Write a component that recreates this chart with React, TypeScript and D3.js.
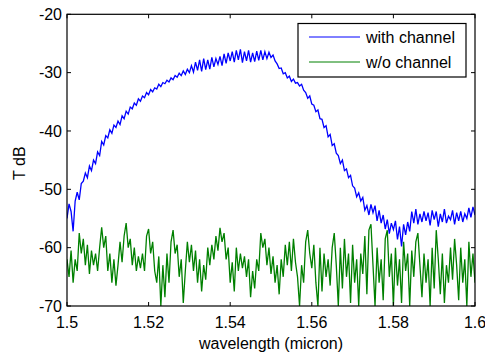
import React from "react";
import * as d3 from "d3";

const xStart = 1.5;
const xStep = 0.0005;
const xTicks = [1.5, 1.52, 1.54, 1.56, 1.58, 1.6];
const xTickLabels = ["1.5", "1.52", "1.54", "1.56", "1.58", "1.6"];
const yTicks = [-70, -60, -50, -40, -30, -20];
const yTickLabels = ["-70", "-60", "-50", "-40", "-30", "-20"];
const seriesNames = ["with channel", "w/o channel"];

const withChannel = [
  -55.0, -52.5, -53.8, -57.2, -52.0, -50.5, -51.8, -49.0, -48.6, -47.2,
  -48.0, -46.0, -46.8, -45.0, -45.6, -43.6, -44.2, -41.8, -42.4, -40.8,
  -41.2, -39.8, -40.4, -39.0, -39.4, -38.3, -38.9, -37.4, -37.9, -36.6,
  -37.1, -35.9, -36.2, -35.2, -35.6, -34.5, -34.9, -34.0, -34.3, -33.4,
  -33.8, -32.9, -33.3, -32.6, -32.8, -32.0, -32.4, -31.7, -31.9, -31.3,
  -31.6, -30.9, -31.2, -30.5, -30.8, -30.1, -30.5, -29.7, -30.3, -29.4,
  -30.0, -28.8, -29.9, -28.2, -29.6, -27.8, -29.8, -27.6, -29.5, -27.8,
  -29.4, -27.4, -29.0, -27.6, -28.6, -27.2, -28.8, -26.8, -28.4, -26.6,
  -28.0, -26.4, -28.2, -26.2, -27.8, -26.0, -28.3, -26.4, -28.0, -26.2,
  -28.2, -26.6, -28.1, -26.3, -27.9, -26.2, -27.8, -26.4, -27.6, -26.5,
  -27.4, -27.0, -28.0, -28.5, -29.3, -29.2, -30.2, -30.0, -30.9, -30.6,
  -31.5, -31.1, -31.8, -31.7, -32.3, -32.0, -33.0, -33.4, -34.4, -34.0,
  -35.4, -35.6, -36.7, -36.4, -37.9, -38.0, -39.4, -39.1, -41.0, -40.6,
  -42.5, -42.2, -43.8, -44.2, -45.6, -45.0, -46.8, -46.5, -48.0, -47.6,
  -49.4, -49.8, -51.3, -50.6, -52.0, -51.4, -53.6, -52.8, -54.4, -52.6,
  -54.0, -52.8, -55.4, -53.6, -55.8, -54.4, -56.8, -55.2, -57.6, -55.8,
  -56.9, -55.4, -58.6, -56.4, -59.8, -56.0, -57.8, -55.6, -57.2, -53.8,
  -55.8, -53.4, -56.0, -54.2, -55.6, -53.8, -55.4, -54.0, -56.2, -53.6,
  -55.2, -53.8, -56.4, -54.2, -55.6, -53.4, -55.8, -54.6, -55.2, -53.6,
  -56.0, -54.0, -55.4, -53.8, -55.6, -54.2, -55.0, -53.2, -54.8, -53.0,
  -54.4,
];

const withoutChannel = [
  -62, -65, -60.5, -66, -62, -64, -57.5, -61, -58.5, -63,
  -59.5, -64.5, -60.5, -63, -61, -64, -60, -56.5, -60, -58,
  -64, -61, -66, -62, -66.5, -63, -59, -62.5, -58, -55.8,
  -60, -58.5, -63, -60, -64, -61.5, -63.5, -61, -64, -58,
  -56.8, -61, -59, -64, -66, -61.5, -70, -63, -68.5, -61,
  -66, -59, -57, -61, -59.5, -65, -62, -69.5, -64, -59,
  -62.5, -59.5, -64, -60.5, -66, -62, -67.5, -63, -65.5, -60,
  -63, -59.5, -62, -58, -60.5, -56.6, -59, -57.5, -62, -60,
  -66, -62.5, -67.5, -60, -64, -61, -63.5, -61.5, -65, -62,
  -68.5, -64, -67, -62, -64, -57.5, -60, -58.5, -63, -60,
  -64.5, -61.5, -66, -63, -68, -62, -65, -59.5, -63, -59,
  -64, -58.5, -62.5, -65, -70, -63, -66, -59, -57, -61,
  -63.5, -59.5, -66, -70, -60, -67.5, -61, -65, -62, -66.5,
  -60, -57.5, -63, -70, -60, -67, -58.5, -65, -61, -69.5,
  -59.5, -66, -62, -70, -61, -64.5, -58, -68, -57, -56,
  -63, -70, -60, -66, -62, -69, -58.5, -57, -65, -61,
  -70, -60, -66.5, -62, -69.5, -59, -64, -61, -70, -60.5,
  -65, -59, -57.5, -63, -68.5, -61, -66, -62, -70, -60,
  -67, -57, -62, -68, -61, -69.5, -63, -66, -60, -65.5,
  -58.5, -63, -69, -60, -66, -62, -70, -59, -65, -61,
  -66,
];

const W = 485;
const H = 356;
const left = 67;
const right = 475;
const top = 14.3;
const bottom = 306;
const FONT = "'Liberation Sans', Arial, sans-serif";
const FS = 16;

export default function App() {
  const x = d3.scaleLinear().domain([1.5, 1.6]).range([left, right]);
  const y = d3.scaleLinear().domain([-70, -20]).range([bottom, top]);
  const toPts = (arr: number[]) => arr.map((v, i) => [xStart + i * xStep, v] as [number, number]);
  const line = d3
    .line<[number, number]>()
    .x((d) => x(d[0]))
    .y((d) => y(d[1]));
  const tick = 4;
  const legX0 = 298, legY0 = 23.5, legX1 = 466, legY1 = 77;
  return (
    <svg
      width={W}
      height={H}
      style={{ position: "absolute", left: 0, top: 0, background: "#fff" }}
      fontFamily={FONT}
    >
      <defs>
        <clipPath id="plotclip">
          <rect x={left} y={top} width={right - left} height={bottom - top} />
        </clipPath>
      </defs>
      <rect x={0} y={0} width={W} height={H} fill="#fff" />
      <g clipPath="url(#plotclip)">
        <path d={line(toPts(withChannel)) || ""} fill="none" stroke="#0000ff" strokeWidth={1.3} />
        <path d={line(toPts(withoutChannel)) || ""} fill="none" stroke="#008000" strokeWidth={1.3} />
      </g>
      <rect x={left} y={top} width={right - left} height={bottom - top} fill="none" stroke="#000" strokeWidth={1.2} />
      {xTicks.map((t, i) => (
        <g key={"x" + i}>
          <line x1={x(t)} x2={x(t)} y1={bottom} y2={bottom - tick} stroke="#000" />
          <line x1={x(t)} x2={x(t)} y1={top} y2={top + tick} stroke="#000" />
          <text x={x(t)} y={327.5} textAnchor="middle" fontSize={FS} fill="#000">
            {xTickLabels[i]}
          </text>
        </g>
      ))}
      {yTicks.map((t, i) => (
        <g key={"y" + i}>
          <line x1={left} x2={left + tick} y1={y(t)} y2={y(t)} stroke="#000" />
          <line x1={right} x2={right - tick} y1={y(t)} y2={y(t)} stroke="#000" />
          <text x={62} y={y(t) + 5.8} textAnchor="end" fontSize={FS} fill="#000">
            {yTickLabels[i]}
          </text>
        </g>
      ))}
      <text x={(left + right) / 2} y={349} textAnchor="middle" fontSize={FS} fill="#000">
        wavelength (micron)
      </text>
      <text
        transform={`translate(25,${(top + bottom) / 2 + 3}) rotate(-90)`}
        textAnchor="middle"
        fontSize={FS}
        fill="#000"
      >
        T dB
      </text>
      <rect x={legX0} y={legY0} width={legX1 - legX0} height={legY1 - legY0} fill="#fff" stroke="#000" strokeWidth={1.2} />
      <line x1={309} x2={360} y1={37} y2={37} stroke="#0000ff" />
      <text x={366} y={43} fontSize={FS} fill="#000">{seriesNames[0]}</text>
      <line x1={309} x2={360} y1={62} y2={62} stroke="#008000" />
      <text x={366} y={68} fontSize={FS} fill="#000">{seriesNames[1]}</text>
    </svg>
  );
}
